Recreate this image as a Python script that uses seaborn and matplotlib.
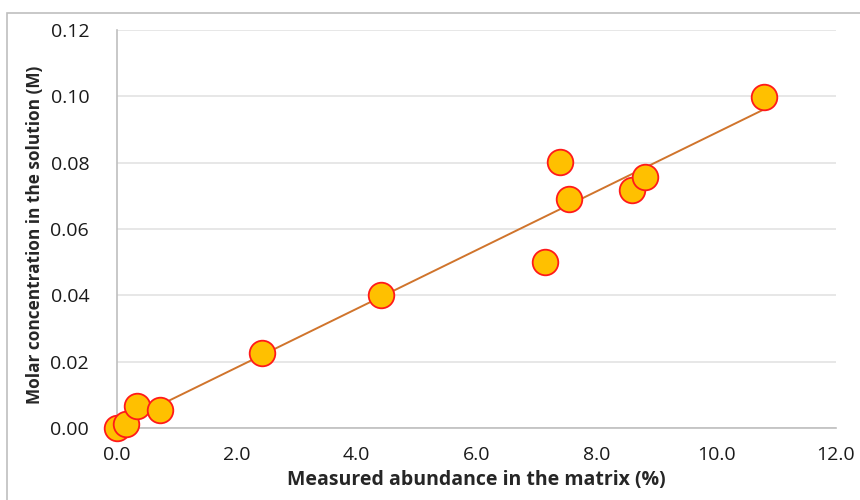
import numpy as np
import pandas as pd
import matplotlib
matplotlib.use("Agg")
import matplotlib.pyplot as plt
import seaborn as sns
from matplotlib.patches import Rectangle

# measured abundance in the matrix (%) vs molar concentration (M)
abundance = [0.0, 0.15, 0.33, 0.72, 2.42, 4.41, 7.15, 7.40, 7.55, 8.60, 8.81, 10.80]
molar = [0.0000, 0.0012, 0.0066, 0.0054, 0.0226, 0.0401, 0.0501, 0.0803, 0.0691, 0.0718, 0.0757, 0.0999]
x_ticks = [0.0, 2.0, 4.0, 6.0, 8.0, 10.0, 12.0]
y_ticks = [0.00, 0.02, 0.04, 0.06, 0.08, 0.10, 0.12]

df = pd.DataFrame({"abundance": abundance, "molar": molar})

sns.set_style("white")
plt.rcParams["font.family"] = ["Open Sans", "DejaVu Sans"]

fig = plt.figure(figsize=(8.6, 5.0), dpi=100)
ax = fig.add_axes([117 / 860, 1 - 428 / 500, (836 - 117) / 860, (428 - 30) / 500])

# outer chart frame
fig.patches.append(Rectangle((7 / 860, -0.1), 2, 1 - 13 / 500 + 0.1,
                             transform=fig.transFigure, fill=False,
                             edgecolor="#BFBFBF", linewidth=1.2))

# trend line (linear fit)
sns.regplot(data=df, x="abundance", y="molar", scatter=False, ci=None, ax=ax,
            line_kws={"color": "#D0742C", "linewidth": 1.4, "zorder": 2})

sns.scatterplot(data=df, x="abundance", y="molar", ax=ax, s=340,
                color="#FFC000", edgecolor="#FF1A1A", linewidth=1.3,
                zorder=3, clip_on=False)

ax.set_xlim(0, 12)
ax.set_ylim(0, 0.12)
ax.set_xticks(x_ticks)
ax.set_yticks(y_ticks)
ax.set_xticklabels([f"{v:.1f}" for v in x_ticks])
ax.set_yticklabels([f"{v:.2f}" for v in y_ticks])

ax.yaxis.grid(True, color="#E3E3E3", linewidth=1.2)
ax.set_axisbelow(True)
for side in ["top", "right"]:
    ax.spines[side].set_visible(False)
ax.spines["left"].set_color("#BFBFBF")
ax.spines["bottom"].set_color("#BFBFBF")
ax.spines["left"].set_linewidth(1.2)
ax.spines["bottom"].set_linewidth(1.2)

ax.tick_params(axis="x", direction="out", length=6, color="#BFBFBF",
               labelsize=14, pad=7, labelcolor="#1A1A1A")
ax.tick_params(axis="y", direction="out", length=6, color="#E3E3E3",
               labelsize=14, pad=14, labelcolor="#1A1A1A")

ax.set_xlabel("Measured abundance in the matrix (%)", fontsize=14,
              fontweight="bold", labelpad=4)
ax.set_ylabel("Molar concentration in the solution (M)", fontsize=12.4,
              fontweight="bold")
ax.yaxis.set_label_coords(-0.101, 0.485)

fig.savefig("out.png", dpi=100)
